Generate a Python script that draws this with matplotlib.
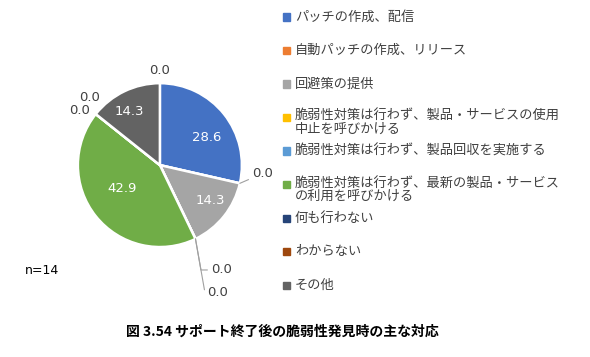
import numpy as np
import matplotlib.pyplot as plt
from matplotlib.patches import Rectangle

plt.rcParams['font.family'] = ['Noto Sans CJK JP', 'DejaVu Sans']

categories = ['パッチの作成、配信',
              '自動パッチの作成、リリース',
              '回避策の提供',
              '脆弱性対策は行わず、製品・サービスの使用\n中止を呼びかける',
              '脆弱性対策は行わず、製品回収を実施する',
              '脆弱性対策は行わず、最新の製品・サービス\nの利用を呼びかける',
              '何も行わない',
              'わからない',
              'その他']
values = [28.6, 0.0, 14.3, 0.0, 0.0, 42.9, 0.0, 0.0, 14.3]
colors = ['#4472C4', '#ED7D31', '#A5A5A5', '#FFC000', '#5B9BD5',
          '#70AD47', '#264478', '#9E480E', '#636363']
n_label = 'n=14'
title = '図 3.54 サポート終了後の脆弱性発見時の主な対応'

# label placement (data coords, radius = 1)
inside_label_pos = {0: (0.57, 0.34), 2: (0.61, -0.43), 5: (-0.46, -0.28), 8: (-0.37, 0.66)}
zero_label_pos = {1: (1.13, -0.10), 3: (0.63, -1.28), 4: (0.58, -1.56),
                  6: (-0.73, 0.83), 7: (-0.85, 0.67)}

fig = plt.figure(figsize=(5.9, 3.57), dpi=100)
ax = fig.add_axes([0.132, 0.308, 0.278, 0.459])

wedges, texts, autotexts = ax.pie(
    values, colors=colors, startangle=90, counterclock=False,
    autopct=lambda p: '%.1f' % p if p > 0.5 else '', pctdistance=0.6,
    wedgeprops=dict(edgecolor='white', linewidth=1.8),
    textprops=dict(color='white', fontsize=9.5, family='DejaVu Sans'))
ax.set_xlim(-1, 1)
ax.set_ylim(-1, 1)
ax.set_aspect('auto')

for i, pos in inside_label_pos.items():
    autotexts[i].set_position(pos)

for i, (tx, ty) in zero_label_pos.items():
    ang = np.deg2rad(wedges[i].theta1)
    px, py = np.cos(ang), np.sin(ang)
    ha = 'left' if tx > 0 else 'right'
    if i in (3, 4):
        conn = 'angle,angleA=0,angleB=100,rad=0'
    else:
        conn = 'arc3'
    ax.annotate('%.1f' % values[i], xy=(px, py), xytext=(tx, ty),
                ha=ha, va='center', fontsize=9.5, color='#404040',
                family='DejaVu Sans', annotation_clip=False,
                arrowprops=dict(arrowstyle='-', color='#A0A0A0', lw=0.8,
                                connectionstyle=conn, shrinkA=1, shrinkB=0)
                if i in (1, 3, 4) else None)
# extra zero label at the top of the pie
ax.text(0, 1.16, '0.0', ha='center', va='center', fontsize=9.5,
        color='#404040', family='DejaVu Sans')

# legend on the right
top = 1 - 17 / 357.0
step = 33.5 / 357.0
for i, (lab, c) in enumerate(zip(categories, colors)):
    y = top - i * step
    fig.patches.append(Rectangle((283 / 590.0, y - 3.5 / 357.0), 7 / 590.0, 7 / 357.0,
                                 transform=fig.transFigure, color=c))
    if '\n' in lab:
        fig.text(295 / 590.0, y + 8 / 357.0, lab, ha='left', va='top',
                 fontsize=9.5, color='#404040', linespacing=1.0)
    else:
        fig.text(295 / 590.0, y, lab, ha='left', va='center',
                 fontsize=9.5, color='#404040')

fig.text(25 / 590.0, 1 - 270 / 357.0, n_label, ha='left', va='center',
         fontsize=9, color='black', family='DejaVu Sans')
fig.text(282 / 590.0, 1 - 332 / 357.0, title, ha='center', va='center',
         fontsize=10, fontweight='bold', color='black')

fig.savefig('out.png', dpi=100)
